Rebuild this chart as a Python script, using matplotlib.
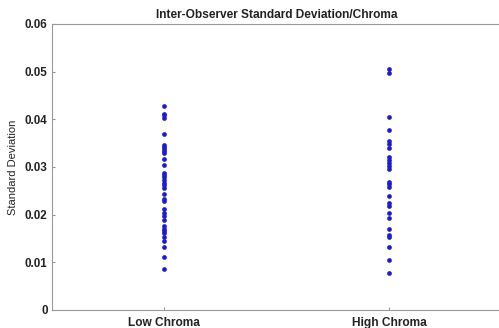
import matplotlib.pyplot as plt
import numpy as np

plt.rcParams['font.family'] = ['Liberation Sans', 'DejaVu Sans']

categories = ["Low Chroma", "High Chroma"]
low_chroma = [0.0428, 0.0412, 0.0408, 0.0403, 0.0370, 0.0347, 0.0342, 0.0337,
              0.0333, 0.0329, 0.0316, 0.0304, 0.0288, 0.0283, 0.0278, 0.0273,
              0.0267, 0.0262, 0.0255, 0.0243, 0.0232, 0.0229, 0.0211, 0.0203,
              0.0197, 0.0189, 0.0176, 0.0170, 0.0165, 0.0161, 0.0154, 0.0144,
              0.0132, 0.0111, 0.0086]
high_chroma = [0.0505, 0.0497, 0.0404, 0.0377, 0.0354, 0.0349, 0.0339, 0.0320,
               0.0314, 0.0308, 0.0302, 0.0296, 0.0269, 0.0264, 0.0257, 0.0239,
               0.0225, 0.0218, 0.0204, 0.0193, 0.0170, 0.0158, 0.0154, 0.0133,
               0.0105, 0.0077]
yticks = [0, 0.01, 0.02, 0.03, 0.04, 0.05, 0.06]
ytick_labels = ["0", "0.01", "0.02", "0.03", "0.04", "0.05", "0.06"]

fig = plt.figure(figsize=(4.99, 3.28), dpi=100)
ax = fig.add_axes([0.104, 0.055, 0.901, 0.872])

for i, verdier in enumerate([low_chroma, high_chroma]):
    ax.plot(np.full(len(verdier), i + 1), verdier, 'o', color='#1c1cd0',
            markersize=3.4, markeredgewidth=0)

ax.set_xlim(0.5, 2.5)
ax.set_ylim(0, 0.06)
ax.set_xticks([1, 2], categories, fontsize=8.6, fontweight='bold',
              color='#222222')
ax.set_yticks(yticks, ytick_labels, fontsize=8.4, fontweight='bold',
              color='#222222')
ax.tick_params(direction='in', length=2, color='#999999', pad=3)
ax.tick_params(axis='x', pad=5)
for s in ax.spines.values():
    s.set_color('#999999')
    s.set_linewidth(0.8)

ax.set_title("Inter-Observer Standard Deviation/Chroma", fontsize=8.6,
             fontweight='bold', pad=4, color='#222222')
ax.set_ylabel("Standard Deviation", fontsize=8, labelpad=5, color='#222222')

fig.savefig("out.png", dpi=100)
